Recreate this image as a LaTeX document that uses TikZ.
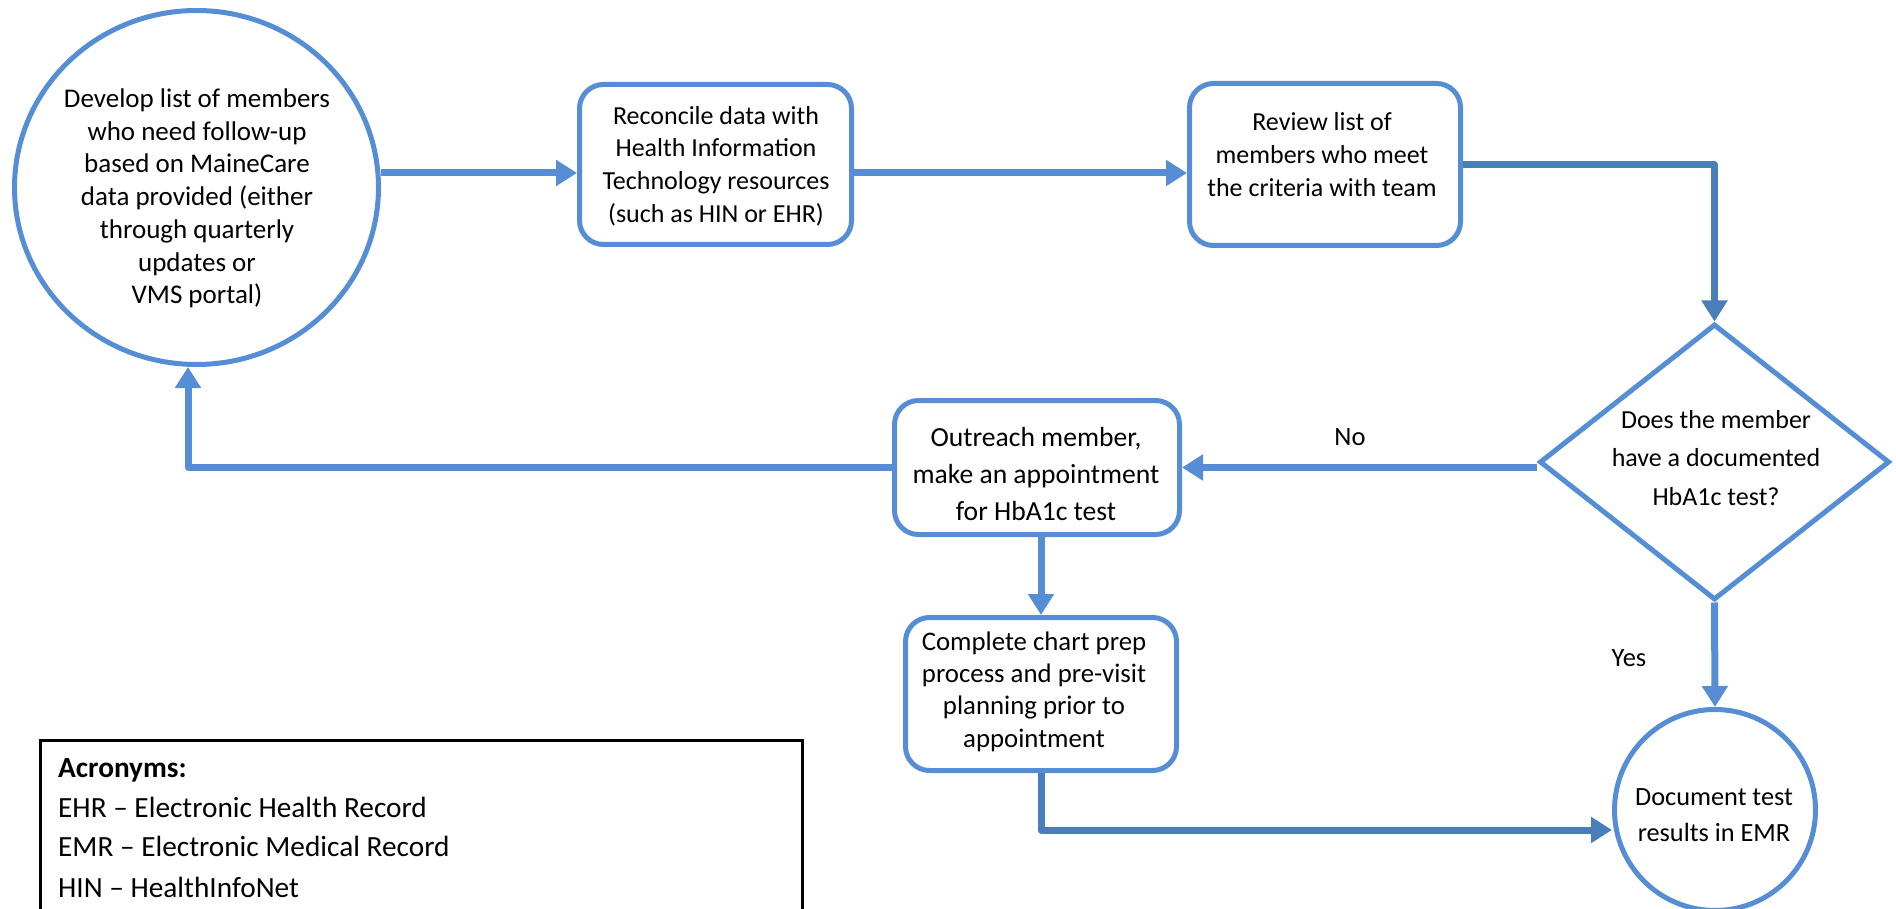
\documentclass[tikz,border=0pt]{standalone}
\usepackage{fontspec}
\setmainfont{Carlito}
\usetikzlibrary{arrows.meta,shapes.geometric}
\definecolor{flowblue}{RGB}{85,142,213}
\definecolor{flowdark}{RGB}{74,126,187}
\tikzset{
  outline/.style={draw=flowblue,line width=5pt,fill=white,inner sep=0pt},
  procbox/.style={outline,rectangle,rounded corners=24pt},
  endcircle/.style={outline,ellipse},
  decision/.style={outline,diamond},
  txt/.style 2 args={align=center,inner sep=0pt,font=\fontsize{#1}{#2}\selectfont},
  flow/.style={draw=flowblue,line width=7pt,line join=round,-{Triangle[length=21pt,width=25pt]}},
  flowdk/.style={flow,draw=flowdark},
  acr/.style={anchor=base west,inner sep=0pt,font=\fontsize{29.3}{34}\selectfont},
}
\begin{document}
\begin{tikzpicture}[x=1pt,y=-1pt]
\useasboundingbox (0,0) rectangle (1896,909);
\clip (0,0) rectangle (1896,909);

% shapes
\node[endcircle,minimum width=364pt,minimum height=354pt] (c1) at (196.5,187.5) {};
\node[procbox,minimum width=272pt,minimum height=160pt] (b2) at (715.5,164.5) {};
\node[procbox,minimum width=271pt,minimum height=162pt] (b3) at (1325,164.5) {};
\node[decision,minimum width=350pt,minimum height=276pt] (dia) at (1714.5,462) {};
\node[procbox,minimum width=285pt,minimum height=134pt] (out) at (1037,467.5) {};
\node[procbox,minimum width=271pt,minimum height=153pt] (comp) at (1041,694) {};
\node[endcircle,minimum width=201pt,minimum height=201pt] (doc) at (1715,810) {};

% texts
\node[txt={27}{32.7}] (t1) at (197,198.5) {Develop list of members\\who need follow-up\\based on MaineCare\\data provided (either\\through quarterly\\updates or\\VMS portal)};
\node[txt={26}{32.7}] (t2) at (716,166) {Reconcile data with\\Health Information\\Technology resources\\(such as HIN or EHR)};
\node[txt={26}{32.7}] (t3) at (1322,154.7) {Review list of\\members who meet\\the criteria with team};
\node[txt={26}{38.5}] (t4) at (1716,458) {Does the member\\have a documented\\HbA1c test?};
\node[txt={27.6}{37}] (t5) at (1036,474) {Outreach member,\\make an appointment\\for HbA1c test};
\node[txt={26.8}{32.3}] (t6) at (1034,691.5) {Complete chart prep\\process and pre-visit\\planning prior to\\appointment};
\node[txt={26.3}{36}] (t7) at (1714,815) {Document test\\results in EMR};
\node[txt={26.5}{32}] (no) at (1350,437) {No};
\node[txt={26.5}{32}] (yes) at (1629,658) {Yes};

% connectors
\coordinate (row1) at (0,173);
\draw[flow] (c1.east |- row1) -- (b2.west |- row1);
\draw[flow] (b2.east |- row1) -- (b3.west |- row1);
\draw[flowdk] ([yshift=-0.5pt]b3.east) -| (dia.north);
\draw[flow] (dia.west |- out.east) -- (out.east);
\draw[flow] (out.west) -| ([xshift=-8.5pt]c1.south);
\draw[flow] (out.south -| comp.north) -- (comp.north);
\draw[flow] (dia.south) -- (doc.north);
\draw[flowdk] (comp.south) |- ([yshift=-20pt]doc.west);

% acronym legend
\node[draw=black,line width=2.5pt,anchor=north west,minimum width=762pt,minimum height=220pt,inner sep=0pt] (legend) at (39.25,739.25) {};
\node[acr] (a0) at (58,777) {\textbf{Acronyms:}};
\node[acr] (a1) at (58,817) {EHR – Electronic Health Record};
\node[acr] (a2) at (58,856) {EMR – Electronic Medical Record};
\node[acr] (a3) at (58,897) {HIN – HealthInfoNet};
\end{tikzpicture}
\end{document}
